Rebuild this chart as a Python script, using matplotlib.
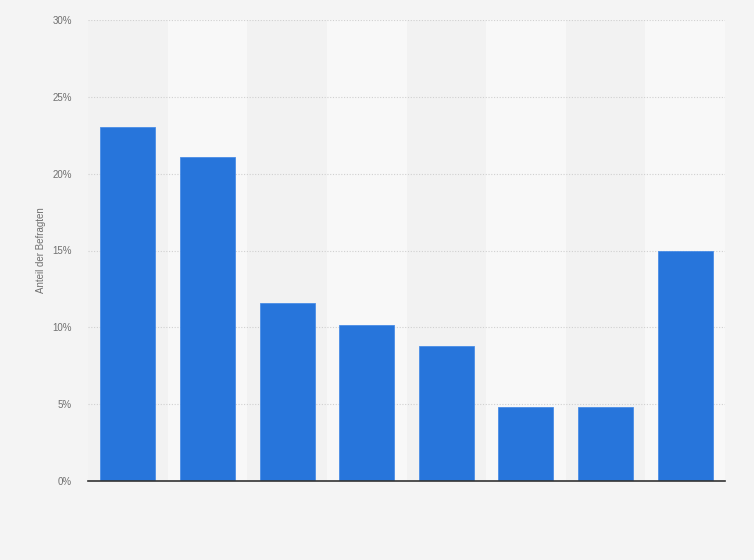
import matplotlib
matplotlib.use("Agg")
import matplotlib.pyplot as plt
from matplotlib.ticker import FuncFormatter

plt.rcParams["font.family"] = ["Liberation Sans", "DejaVu Sans"]

categories = ["1", "2", "3", "4", "5", "6", "7", "8"]
values = [23.05, 21.1, 11.6, 10.15, 8.8, 4.8, 4.8, 15.0]
yticks = [0, 5, 10, 15, 20, 25, 30]

fig = plt.figure(figsize=(7.54, 5.6), dpi=100)
fig.patch.set_facecolor("#f4f4f4")
ax = fig.add_axes([88/754, 79/560, 637/754, 461/560])
ax.set_facecolor("#f2f2f2")

x = list(range(len(categories)))
for i in x:
    if i % 2 == 1:
        ax.axvspan(i - 0.5, i + 0.5, color="#f8f8f8", zorder=0, lw=0)

ax.bar(x, values, width=0.69, color="#2775db", edgecolor="#4a8de6", linewidth=0.6, zorder=3)

ax.set_xlim(-0.5, len(categories) - 0.5)
ax.set_ylim(0, 30)
ax.set_yticks(yticks)
ax.yaxis.set_major_formatter(FuncFormatter(lambda v, p: f"{int(v)}%"))
ax.grid(axis="y", color="#d0d0d0", linestyle=(0, (1, 1.5)), linewidth=0.8, zorder=1)
ax.set_xticks([])
for s in ["top", "right", "left"]:
    ax.spines[s].set_visible(False)
ax.spines["bottom"].set_color("#333333")
ax.spines["bottom"].set_linewidth(1.2)
ax.spines["bottom"].set_zorder(4)
ax.tick_params(axis="y", length=0, labelsize=7, labelcolor="#707070", pad=11.5)
ax.set_ylabel("Anteil der Befragten", fontsize=7, color="#707070", labelpad=5)

fig.savefig("out.png", dpi=100, facecolor=fig.get_facecolor())
